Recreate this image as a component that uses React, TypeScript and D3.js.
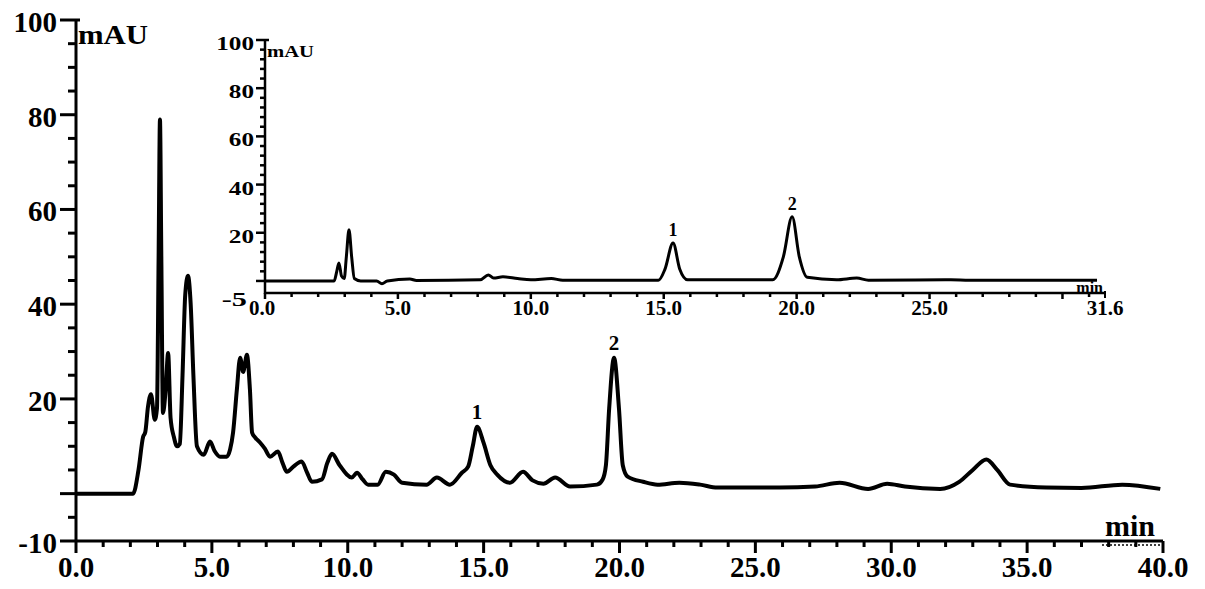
import React from "react";
import * as d3 from "d3";

// main chromatogram (sample), retention time in min and absorbance in mAU
const mainTime = [
  0, 2.1, 2.3, 2.47, 2.55, 2.65, 2.76, 2.9, 2.98, 3.04, 3.09, 3.14, 3.2, 3.3, 3.39, 3.48,
  3.6, 3.72, 3.82, 3.92, 4.02, 4.12, 4.22, 4.32, 4.45, 4.7, 4.93, 5.1, 5.3, 5.55, 5.67,
  5.78, 5.92, 6.04, 6.15, 6.29, 6.4, 6.48, 6.6, 6.77, 6.95, 7.14, 7.43, 7.6, 7.76, 8.0,
  8.3, 8.5, 8.68, 9.05, 9.25, 9.42, 9.7, 10.15, 10.34, 10.55, 10.75, 11.1, 11.4, 11.7,
  12.0, 12.9, 13.28, 13.76, 14.2, 14.43, 14.6, 14.76, 15.0, 15.25, 15.5, 15.97, 16.45,
  16.8, 17.2, 17.63, 18.18, 19.17, 19.38, 19.5, 19.62, 19.8, 19.98, 20.12, 20.3, 20.87,
  21.4, 22.2, 22.97, 23.6, 25.9, 27.2, 28.1, 29.15, 29.85, 30.5, 31.8, 32.5, 33.0, 33.5,
  33.9, 34.37, 35.7, 37.0, 38.5, 39.9,
];
const mainAbs = [
  0, 0, 5, 12, 13, 18.4, 21, 15.6, 18, 50, 79, 50, 17, 22, 29.7, 16,
  12, 10, 10.5, 25, 42, 46, 40, 25, 10, 8.2, 11, 9, 7.8, 7.8, 9.3,
  12.9, 22, 28.7, 25.7, 29.3, 22, 12.9, 11.8, 10.8, 9.5, 7.8, 8.9, 6.5, 4.6, 5.7,
  6.8, 4.5, 2.5, 3, 6.5, 8.4, 6, 3.4, 4.4, 3, 1.9, 1.9, 4.6, 4,
  2.3, 1.9, 3.4, 1.9, 4.4, 5.7, 10, 14.1, 10.7, 6, 4, 2.3, 4.6,
  2.8, 2.1, 3.4, 1.5, 1.9, 3, 6, 18, 28.7, 18, 6, 3.6, 2.5,
  1.9, 2.3, 1.9, 1.3, 1.3, 1.5, 2.3, 1, 2.1, 1.5, 1, 2.5, 5, 7.2,
  5, 1.9, 1.3, 1.2, 1.9, 1,
];

// inset chromatogram (standards)
const insetTime = [
  0, 2.6, 2.7, 2.78, 2.88, 2.98, 3.06, 3.16, 3.26, 3.36, 3.6, 4.2, 4.4, 4.6, 5.45, 5.7,
  8.1, 8.4, 8.6, 8.95, 9.5, 10.0, 10.77, 11.2, 14.8, 15.05, 15.35, 15.6, 15.9, 19.1,
  19.5, 19.83, 20.1, 20.4, 21.5, 22.26, 22.7, 25.8, 26.5, 31.3,
];
const insetAbs = [
  0, 0, 4, 7.5, 2, 1, 10, 21.2, 10, 1, 0, 0, -1.2, 0, 0.8, 0.2,
  0.5, 2.5, 1.2, 1.7, 1, 0.5, 1, 0.3, 0.3, 5, 15.8, 5, 0.5, 0.5,
  10, 26.6, 10, 1.5, 0.5, 1.2, 0.3, 0.5, 0.3, 0.3,
];

const peakLabels = ["1", "2"];
const mainPeakTime = [14.76, 19.8];
const mainPeakAbs = [14.1, 28.7];
const insetPeakTime = [15.35, 19.83];
const insetPeakAbs = [15.8, 26.6];

const mainXTicks = ["0.0", "5.0", "10.0", "15.0", "20.0", "25.0", "30.0", "35.0", "40.0"];
const mainYTicks = [100, 80, 60, 40, 20, -10];
const insetXTicks = ["0.0", "5.0", "10.0", "15.0", "20.0", "25.0", "31.6"];
const insetYTicks = [100, 80, 60, 40, 20, -5];

const font = "'Liberation Serif', 'Times New Roman', serif";

const App = () => {
  const x = d3.scaleLinear().domain([0, 40]).range([76, 1163]);
  const y = d3.scaleLinear().domain([-10, 100]).range([541, 20]);
  const ix = d3.scaleLinear().domain([0, 31.6]).range([265, 1105]);
  const iy = d3.scaleLinear().domain([-5, 100]).range([293, 40]);

  const mainLine = d3
    .line<number>()
    .x((d, i) => x(mainTime[i]))
    .y((d) => y(d))
    .curve(d3.curveMonotoneX);
  const insetLine = d3
    .line<number>()
    .x((d, i) => ix(insetTime[i]))
    .y((d) => iy(d))
    .curve(d3.curveMonotoneX);

  const x0 = x(0);
  const yBase = y(-10);
  const ix0 = ix(0);
  const iyBase = iy(-5);

  return (
    <svg
      width={1205}
      height={589}
      style={{ position: "absolute", left: 0, top: 0, background: "#fff" }}
      fontFamily={font}
      fontWeight="bold"
    >
      {/* ---------- main chart ---------- */}
      {/* y ticks: minor every 5, major every 20 plus zero */}
      {d3.range(-10, 101, 5).map((v) => {
        const major = v % 20 === 0 || v === -10;
        return (
          <line
            key={"my" + v}
            x1={major ? 60 : 68}
            x2={v === 100 ? 80 : x0}
            y1={y(v)}
            y2={y(v)}
            stroke="#000"
            strokeWidth={3}
          />
        );
      })}
      {mainYTicks.map((v) => (
        <text key={"myl" + v} x={57} y={y(v) + 2} textAnchor="end" dominantBaseline="central" fontSize={29}>
          {v}
        </text>
      ))}
      {/* x ticks */}
      {d3.range(0, 41, 1).map((t) => (
        <line
          key={"mx" + t}
          x1={x(t)}
          x2={x(t)}
          y1={yBase}
          y2={t % 5 === 0 ? yBase + 12 : yBase + 6}
          stroke="#000"
          strokeWidth={3}
        />
      ))}
      {mainXTicks.map((s, i) => (
        <text key={"mxl" + s} x={x(i * 5)} y={577} textAnchor="middle" fontSize={29}>
          {s}
        </text>
      ))}
      <line x1={x0} x2={x0} y1={y(100) - 1} y2={yBase + 1} stroke="#000" strokeWidth={3} />
      <line x1={x0} x2={x(40)} y1={yBase} y2={yBase} stroke="#000" strokeWidth={3} />
      <line x1={1102} x2={1160} y1={yBase + 4} y2={yBase + 4} stroke="#000" strokeWidth={1.5} strokeDasharray="2,2" />
      <text x={78} y={44} fontSize={28} textLength={70} lengthAdjust="spacingAndGlyphs">
        mAU
      </text>
      <text x={1155} y={536} textAnchor="end" fontSize={30}>
        min
      </text>
      <path d={mainLine(mainAbs) || ""} fill="none" stroke="#000" strokeWidth={4} strokeLinejoin="round" />
      {peakLabels.map((s, i) => (
        <text
          key={"mp" + s}
          x={x(mainPeakTime[i])}
          y={y(mainPeakAbs[i]) - 8}
          textAnchor="middle"
          fontSize={21}
        >
          {s}
        </text>
      ))}

      {/* ---------- inset chart ---------- */}
      {d3.range(0, 101, 4).map((v) => {
        const major = v % 20 === 0;
        return (
          <line
            key={"iy" + v}
            x1={major ? 256 : 260}
            x2={v === 100 ? 269 : ix0}
            y1={iy(v)}
            y2={iy(v)}
            stroke="#000"
            strokeWidth={2.5}
          />
        );
      })}
      {insetYTicks.map((v) => (
        <text
          key={"iyl" + v}
          x={v === -5 ? 247 : 254}
          y={v === -5 ? iy(v) + 7 : iy(v) + 4}
          textAnchor="end"
          dominantBaseline="central"
          fontSize={18}
          textLength={String(v).length * 12.6}
          lengthAdjust="spacingAndGlyphs"
        >
          {v}
        </text>
      ))}
      {d3.range(0, 32, 1).map((t) => (
        <line
          key={"ix" + t}
          x1={ix(t)}
          x2={ix(t)}
          y1={iyBase}
          y2={t % 5 === 0 ? iyBase + 6 : iyBase + 4}
          stroke="#000"
          strokeWidth={2.5}
        />
      ))}
      <line x1={ix(31.6)} x2={ix(31.6)} y1={iyBase - 2} y2={iyBase + 5} stroke="#000" strokeWidth={2} />
      {insetXTicks.map((s, i) => (
        <text
          key={"ixl" + s}
          x={s === "31.6" ? ix(31.6) : ix(i * 5) + (i === 0 ? -3 : 0)}
          y={315}
          textAnchor="middle"
          fontSize={21}
        >
          {s}
        </text>
      ))}
      <line x1={ix0} x2={ix0} y1={iy(100) - 1} y2={iyBase + 1} stroke="#000" strokeWidth={2.5} />
      <line x1={ix0} x2={ix(31.6)} y1={iyBase} y2={iyBase} stroke="#000" strokeWidth={2.5} />
      <text x={267} y={57} fontSize={17} textLength={47} lengthAdjust="spacingAndGlyphs">
        mAU
      </text>
      <text x={1103} y={293} textAnchor="end" fontSize={16}>
        min
      </text>
      <path d={insetLine(insetAbs) || ""} fill="none" stroke="#000" strokeWidth={3} strokeLinejoin="round" />
      {peakLabels.map((s, i) => (
        <text
          key={"ip" + s}
          x={ix(insetPeakTime[i])}
          y={iy(insetPeakAbs[i]) - 7}
          textAnchor="middle"
          fontSize={18}
        >
          {s}
        </text>
      ))}
    </svg>
  );
};

export default App;
